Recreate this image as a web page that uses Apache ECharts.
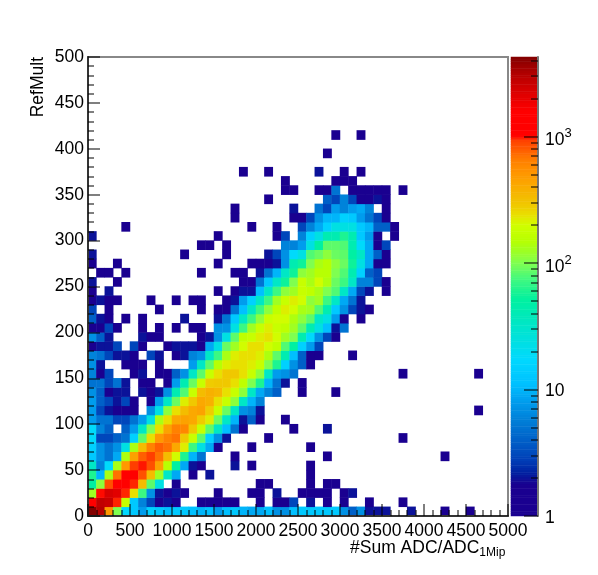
<!DOCTYPE html>
<html><head><meta charset="utf-8">
<style>html,body{margin:0;padding:0;background:#fff}#c{width:598px;height:575px}</style>
<script src="https://cdn.jsdelivr.net/npm/echarts@6/dist/echarts.min.js"></script>
</head><body><div id="c"></div>
<script>
// counts per bin, one row per RefMult bin (10 wide), column = ADC bin (100 wide)
const r00=[4300,3000,500,100,17, 13,8,15,13,11, 13,13,11,10,11, 8,11,13,10,9, 9,11,7,7,11, 13,13,13,13,13, 7,4,7,2,2, 2,0,0,2,0, 0,0,1,0,0, 1];
const r01=[1300,2800,2600,960,180, 13,6,3,1,2, 1,0,0,1,1, 1,1,1,0,0, 1,0,1,1,3, 0,2,0,1,0, 1,0,0,1,0, 0,0,1];
const r02=[125,1000,2300,2100,960, 240,72,7,2,1, 2,1,0,0,0, 1,0,0,0,1, 1,0,2,0,0, 1,1,1,1,0, 1,2];
const r03=[50,110,850,1300,1300, 960,330,85,24,0, 1,0,0,0,0, 0,0,0,0,0, 1,1,0,0,0, 0,1,0,1,1];
const r04=[60,10,135,700,1300, 1300,850,330,125,33, 9,0,1,0,2, 0,0,0,0,0, 0,0,0,0,0, 0,1];
const r05=[33,6,18,135,500, 930,980,850,450,150, 50,9,2,1,0, 0,0,2,0,1, 0,0,0,0,0, 0,1];
const r06=[13,7,5,9,140, 450,780,930,700,330, 200,60,10,5,0, 0,0,1,0,0, 0,0,0,0,0, 0,0,0,1,0, 0,0,0,0,0, 0,0,0,0,0, 0,0,1];
const r07=[15,7,5,7,24, 135,330,640,780,700, 420,220,72,24,9, 1,0,0,0,1, 0,0,0,0,0, 0,1];
const r08=[18,3,3,4,5, 15,85,240,500,640, 700,290,180,85,15, 7,2,0,0,0, 0,1,0,0,0, 0,0,0,0,0, 0,0,0,0,0, 0,0,1];
const r09=[18,6,4,0,4, 8,33,100,240,450, 640,600,290,180,85, 33,11,5,1,0, 0,0,0,0,1, 0,0,0,2];
const r10=[8,5,5,3,3, 5,8,24,135,240, 420,450,420,280,220, 90,33,10,2,4, 1,0,0,1,0];
const r11=[8,3,2,1,1, 1,0,7,24,110, 240,330,420,450,280, 180,90,33,7,6, 2,0,0,0,0, 0,0,0,0,0, 0,0,0,0,0, 0,0,0,0,0, 0,0,0,0,0, 0,1];
const r12=[8,4,3,2,3, 1,0,1,8,33, 90,220,290,420,380, 240,180,110,33,10, 6];
const r13=[7,4,1,2,2, 0,2,1,2,7, 42,80,180,330,380, 350,240,180,110,33, 9,6,4,0,0, 1,0,0,0,1];
const r14=[5,5,3,5,2, 0,1,1,0,1, 8,42,90,180,280, 290,290,240,165,100, 60,10,5,2,0, 1];
const r15=[6,1,3,0,0, 1,2,0,1,1, 4,7,33,85,180, 240,290,290,240,180, 110,33,8,7,5, 0,0,0,0,0, 0,0,0,0,0, 0,0,1,0,0, 0,0,0,0,0, 0,1];
const r16=[7,2,0,0,1, 1,1,0,1,0, 0,0,8,33,85, 150,220,240,240,220, 180,100,60,15,7, 4,1];
const r17=[6,5,3,2,2, 1,0,3,2,0, 1,2,6,7,33, 72,135,220,240,240, 220,140,85,42,11, 4,1,1,0,0, 0,1];
const r18=[1,2,2,3,0, 3,1,0,0,1, 2,2,2,1,9, 24,90,125,200,240, 240,200,165,80,50, 15,8,3];
const r19=[7,4,2,0,0, 0,2,1,1,0, 0,0,0,1,2, 7,24,85,165,180, 220,240,200,125,100, 42,18,7,3,1];
const r20=[1,1,3,1,0, 0,1,0,1,0, 1,0,1,1,0, 7,7,24,72,125, 180,220,180,165,125, 85,42,24,11,2, 5];
const r21=[4,2,1,0,1, 0,1,0,0,0, 0,2,0,0,0, 2,5,13,33,72, 110,180,200,200,140, 110,85,33,24,8, 1,0,1];
const r22=[3,0,1,0,0, 0,0,0,1,0, 0,0,0,1,0, 1,1,5,11,33, 72,110,165,220,200, 135,125,80,42,13, 7,3,2,1];
const r23=[1,2,1,1,0, 0,0,1,0,0, 1,0,1,1,0, 0,1,2,8,15, 33,72,125,180,220, 200,110,125,72,33, 9,5,2];
const r24=[1,0,2,0,0, 0,0,0,0,0, 0,0,0,0,0, 1,0,1,2,2, 11,33,72,110,125, 180,165,135,100,80, 33,9,3,2,0, 1];
const r25=[2,0,0,1,0, 0,0,0,0,0, 0,0,0,0,0, 0,0,0,1,1, 5,13,33,55,100, 180,135,200,140,90, 72,33,6,6,3, 1];
const r26=[0,1,1,0,1, 0,0,0,0,0, 0,0,0,1,0, 0,0,1,1,0, 2,5,10,33,55, 110,125,150,150,100, 80,42,15,4,3];
const r27=[1,0,0,1,0, 0,0,0,0,0, 0,0,0,0,0, 1,0,0,0,1, 1,1,2,7,42, 55,100,135,150,110, 90,55,24,9,1, 1];
const r28=[2,0,0,0,0, 0,0,0,0,0, 0,1,0,0,0, 0,1,0,0,0, 0,2,3,7,18, 24,80,90,110,90, 85,50,33,9,4, 1];
const r29=[0,0,0,0,0, 0,0,0,0,0, 0,0,0,1,1, 0,1,0,0,0, 0,0,0,6,6, 8,24,50,85,85, 80,42,18,9,1, 3];
const r30=[2,0,0,0,0, 0,0,0,0,0, 0,0,0,0,0, 1,0,0,0,0, 0,0,1,3,0, 6,15,24,42,42, 60,42,13,8,1, 0,1];
const r31=[0,0,0,0,1, 0,0,0,0,0, 0,0,0,0,0, 0,0,0,0,1, 0,0,1,0,0, 3,6,9,15,24, 24,24,13,10,4, 4,1];
const r32=[0,0,0,0,0, 0,0,0,0,0, 0,0,0,0,0, 0,0,1,0,0, 0,0,0,0,1, 1,3,7,10,10, 15,13,8,5,3, 1];
const r33=[0,0,0,0,0, 0,0,0,0,0, 0,0,0,0,0, 0,0,1,0,0, 0,0,0,0,2, 0,0,5,3,8, 6,8,9,6,0, 1];
const r34=[0,0,0,0,0, 0,0,0,0,0, 0,0,0,0,0, 0,0,0,0,0, 0,1,0,0,0, 0,0,0,4,3, 6,3,1,1,2, 1];
const r35=[0,0,0,0,0, 0,0,0,0,0, 0,0,0,0,0, 0,0,0,0,0, 0,0,0,1,1, 0,0,1,1,5, 0,1,1,1,1, 1,0,1];
const r36=[0,0,0,0,0, 0,0,0,0,0, 0,0,0,0,0, 0,0,0,0,0, 0,0,0,1,0, 0,0,0,0,1, 1,1];
const r37=[0,0,0,0,0, 0,0,0,0,0, 0,0,0,0,0, 0,0,0,1,0, 0,1,0,0,0, 0,0,2,0,0, 1,0,1];
const r38=[];
const r39=[0,0,0,0,0, 0,0,0,0,0, 0,0,0,0,0, 0,0,0,0,0, 0,0,0,0,0, 0,0,0,1];
const r40=[];
const r41=[0,0,0,0,0, 0,0,0,0,0, 0,0,0,0,0, 0,0,0,0,0, 0,0,0,0,0, 0,0,0,0,1, 0,0,1];
const rows=[r00,r01,r02,r03,r04,r05,r06,r07,r08,r09,r10,r11,r12,r13,r14,r15,r16,r17,r18,r19,r20,r21,r22,r23,r24,r25,r26,r27,r28,r29,r30,r31,r32,r33,r34,r35,r36,r37,r38,r39,r40,r41];
const xBins=Array.from({length:50},(_,i)=>i*100);
const yBins=Array.from({length:50},(_,i)=>i*10);
const zMax=4250;

// palette: [log10(count), colour]
const paletteStops=[[0,'#1a0090'],[0.25,'#1a0090'],[0.34,'#0020a0'],[0.45,'#0040b8'],[0.6,'#0060c8'],[0.76,'#0080d8'],[0.92,'#00a0f0'],[1.04,'#00c0ff'],[1.23,'#00d8ff'],[1.39,'#00e0e0'],[1.55,'#00e8c0'],[1.71,'#00f0a0'],[1.87,'#40f880'],[2.0,'#80ff50'],[2.1,'#a0ff20'],[2.18,'#b8ff00'],[2.3,'#d0ff00'],[2.38,'#e8e000'],[2.46,'#f0c800'],[2.58,'#f8b000'],[2.7,'#ff9800'],[2.81,'#ff8000'],[2.89,'#ff6000'],[2.97,'#ff4000'],[3.0,'#ff0000'],[3.2,'#ff0000'],[3.33,'#e00000'],[3.45,'#c00000'],[3.55,'#a00000'],[3.63,'#800000']];
const zTop=Math.log10(zMax);
function hex(c){return [1,3,5].map(k=>parseInt(c.substr(k,2),16));}
function colorAt(v){
  for(let k=1;k<paletteStops.length;k++){
    if(v<=paletteStops[k][0]){
      const a=paletteStops[k-1],b=paletteStops[k],f=(v-a[0])/(b[0]-a[0]);
      const A=hex(a[1]),B=hex(b[1]);
      return 'rgb('+A.map((x,n)=>Math.round(x+(B[n]-x)*f)).join(',')+')';
    }
  }
  return paletteStops[paletteStops.length-1][1];
}
const palette=Array.from({length:182},(_,k)=>colorAt(k/181*zTop));

const cells=[];
rows.forEach((row,j)=>row.forEach((c,i)=>{if(c>0)cells.push([i,j,Math.log10(c)]);}));
const barLevels=Array.from({length:200},(_,k)=>k);
const barCells=barLevels.map(k=>[0,k,(k+0.5)/200*zTop]);
const minorLog=[];
[1,10,100,1000].forEach(d=>[2,3,4,5,6,7,8,9].forEach(m=>{if(m*d<zMax)minorLog.push(Math.log10(m*d));}));

const FONT='"Liberation Sans",Arial,sans-serif';
const FS=17.5;
const tickCol='rgba(0,0,0,0.5)';
const plain=v=>String(v);
const chart=echarts.init(document.getElementById('c'),null,{renderer:'canvas'});
chart.setOption({
  animation:false,backgroundColor:'#fff',
  grid:[
    {left:88,top:57,width:420,height:459,show:true,borderColor:'#888',borderWidth:2,backgroundColor:'transparent',z:5,outerBoundsMode:'none',containLabel:false},
    {left:511,top:57,width:27,height:459,outerBoundsMode:'none',containLabel:false}
  ],
  visualMap:{show:false,type:'continuous',min:0,max:zTop,seriesIndex:[0,1],inRange:{color:palette}},
  xAxis:[
    {type:'value',gridIndex:0,min:0,max:5000,interval:500,position:'bottom',z:10,
     axisLine:{show:true,onZero:false,lineStyle:{color:'#333',width:2}},
     axisTick:{show:true,inside:true,length:12,lineStyle:{color:tickCol,width:2}},
     minorTick:{show:true,splitNumber:5,length:6,lineStyle:{color:tickCol,width:2}},
     splitLine:{show:false},minorSplitLine:{show:false},
     axisLabel:{color:'#000',fontFamily:FONT,fontSize:FS,margin:6,hideOverlap:false,showMinLabel:true,showMaxLabel:true,formatter:plain},
     name:'{a|#Sum ADC/ADC}{b|1Mip}',nameLocation:'end',nameGap:-158,nameMoveOverlap:false,
     nameTextStyle:{verticalAlign:'top',padding:[22,0,0,0],rich:{
       a:{fontFamily:FONT,fontSize:FS,color:'#000',lineHeight:20},
       b:{fontFamily:FONT,fontSize:12,color:'#000',padding:[9,0,0,0],lineHeight:20}}}},
    {type:'category',gridIndex:0,data:xBins,show:false,position:'top'},
    {type:'category',gridIndex:1,data:['z'],show:false}
  ],
  yAxis:[
    {type:'value',gridIndex:0,min:0,max:500,interval:50,position:'left',z:10,
     axisLine:{show:true,onZero:false,lineStyle:{color:'#333',width:2}},
     axisTick:{show:true,inside:true,length:12,lineStyle:{color:tickCol,width:2}},
     minorTick:{show:true,splitNumber:5,length:6,lineStyle:{color:tickCol,width:2}},
     splitLine:{show:false},minorSplitLine:{show:false},
     axisLabel:{color:'#000',fontFamily:FONT,fontSize:FS,margin:4,formatter:plain},
     name:'RefMult',nameLocation:'end',nameRotate:90,nameGap:0,nameMoveOverlap:false,
     nameTextStyle:{color:'#000',fontFamily:FONT,fontSize:FS,align:'right',verticalAlign:'bottom',padding:[0,0,41,0]}},
    {type:'category',gridIndex:0,data:yBins,show:false,position:'right'},
    {type:'category',gridIndex:1,data:barLevels,show:false,position:'left'},
    {type:'value',gridIndex:1,min:0,max:zTop,position:'right',z:10,
     axisLine:{show:true,onZero:false,lineStyle:{color:'#777',width:2}},
     axisTick:{show:true,inside:true,length:14,customValues:[0,1,2,3],lineStyle:{color:tickCol,width:2}},
     splitLine:{show:false},
     axisLabel:{show:true,customValues:[0,1,2,3],color:'#000',fontFamily:FONT,fontSize:FS,margin:7,
       formatter:v=>{const n=Math.round(v);return n===0?'{c|1}':n===1?'{c|10}':'{b|10}{s|'+n+'}';},
       rich:{c:{fontFamily:FONT,fontSize:FS,color:'#000',padding:[4,0,0,0]},
             b:{fontFamily:FONT,fontSize:FS,color:'#000',padding:[8,0,0,0]},
             s:{fontFamily:FONT,fontSize:13,color:'#000',padding:[0,0,6,0]}}}},
    {type:'value',gridIndex:1,min:0,max:zTop,position:'right',z:10,
     axisLine:{show:false},splitLine:{show:false},axisLabel:{show:false},
     axisTick:{show:true,inside:true,length:7,customValues:minorLog,lineStyle:{color:tickCol,width:2}}}
  ],
  series:[
    {type:'heatmap',xAxisIndex:1,yAxisIndex:1,data:cells,progressive:0,z:2},
    {type:'heatmap',xAxisIndex:2,yAxisIndex:2,data:barCells,progressive:0,z:2}
  ]
});
</script></body></html>
